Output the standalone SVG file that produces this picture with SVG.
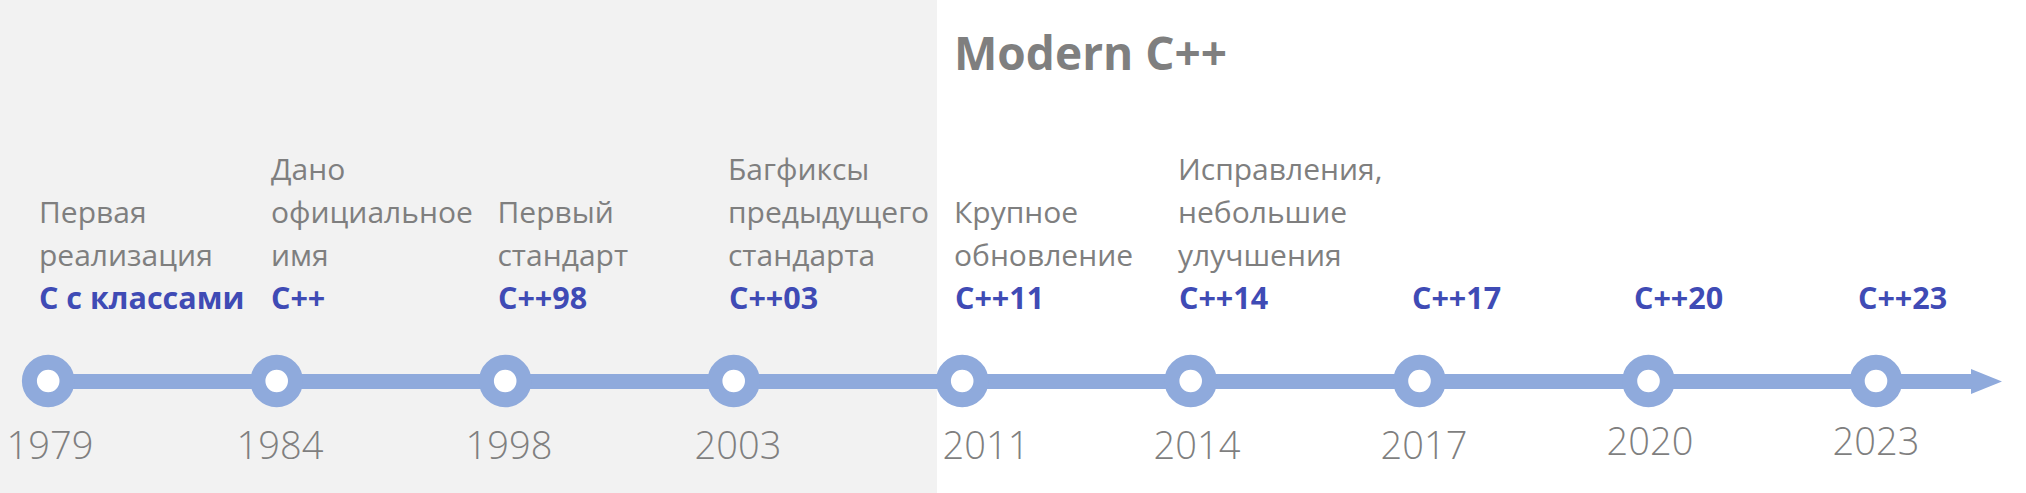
<svg xmlns="http://www.w3.org/2000/svg" width="2026" height="493" viewBox="0 0 2026 493">
<style>
.desc{font-family:"Open Sans","Liberation Sans",sans-serif;font-size:30px;fill:#7f7f7f;font-weight:400}
.ver{font-family:"Open Sans","Liberation Sans",sans-serif;font-size:30.5px;fill:#3f4bb5;font-weight:700}
.year{font-family:"Open Sans","Liberation Sans",sans-serif;font-size:38px;fill:#7f7f7f;font-weight:300;text-anchor:middle}
.title{font-family:"Open Sans","Liberation Sans",sans-serif;font-size:46px;fill:#7f7f7f;font-weight:700}
.dot{fill:#ffffff;stroke:#8faadc;stroke-width:15}
</style>
<rect x="0" y="0" width="2026" height="493" fill="#ffffff"/>
<rect id="legacy-bg" x="0" y="0" width="937" height="493" fill="#f2f2f2"/>
<text id="modern-title" class="title" x="954" y="70">Modern C++</text>
<g id="connectors">
<rect x="48" y="374" width="1924" height="15" fill="#8faadc"/>
<polygon points="1971,369 2002,381.5 1971,394" fill="#8faadc"/>
</g>
<g id="n1979"><circle class="dot" cx="48.2" cy="381" r="18.8"/>
<text class="desc"><tspan x="39" y="223">Первая</tspan><tspan x="39" y="266">реализация</tspan></text>
<text class="ver" x="39" y="309">С с классами</text>
<text class="year" x="50" y="459">1979</text></g>
<g id="n1984"><circle class="dot" cx="276.7" cy="381" r="18.8"/>
<text class="desc"><tspan x="271" y="180">Дано</tspan><tspan x="271" y="223">официальное</tspan><tspan x="271" y="266">имя</tspan></text>
<text class="ver" x="271" y="309">C++</text>
<text class="year" x="280" y="459">1984</text></g>
<g id="n1998"><circle class="dot" cx="505.2" cy="381" r="18.8"/>
<text class="desc"><tspan x="497.5" y="223">Первый</tspan><tspan x="497.5" y="266">стандарт</tspan></text>
<text class="ver" x="498" y="309">C++98</text>
<text class="year" x="509" y="459">1998</text></g>
<g id="n2003"><circle class="dot" cx="733.7" cy="381" r="18.8"/>
<text class="desc"><tspan x="728" y="180">Багфиксы</tspan><tspan x="728" y="223">предыдущего</tspan><tspan x="728" y="266">стандарта</tspan></text>
<text class="ver" x="729" y="309">C++03</text>
<text class="year" x="738" y="459">2003</text></g>
<g id="n2011"><circle class="dot" cx="962.2" cy="381" r="18.8"/>
<text class="desc"><tspan x="954" y="223">Крупное</tspan><tspan x="954" y="266">обновление</tspan></text>
<text class="ver" x="955" y="309">C++11</text>
<text class="year" x="986" y="459">2011</text></g>
<g id="n2014"><circle class="dot" cx="1190.7" cy="381" r="18.8"/>
<text class="desc"><tspan x="1178" y="180">Исправления,</tspan><tspan x="1178" y="223">небольшие</tspan><tspan x="1178" y="266">улучшения</tspan></text>
<text class="ver" x="1179" y="309">C++14</text>
<text class="year" x="1197" y="459">2014</text></g>
<g id="n2017"><circle class="dot" cx="1419.5" cy="381" r="18.8"/>
<text class="ver" x="1412" y="309">C++17</text>
<text class="year" x="1424" y="459">2017</text></g>
<g id="n2020"><circle class="dot" cx="1648.5" cy="381" r="18.8"/>
<text class="ver" x="1634" y="309">C++20</text>
<text class="year" x="1650" y="455">2020</text></g>
<g id="n2023"><circle class="dot" cx="1876" cy="381" r="18.8"/>
<text class="ver" x="1858" y="309">C++23</text>
<text class="year" x="1876" y="455">2023</text></g>
</svg>
